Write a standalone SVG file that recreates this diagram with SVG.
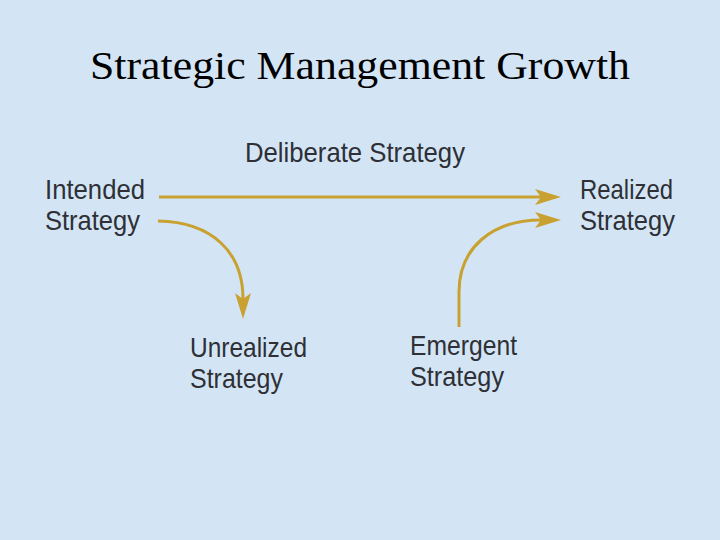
<svg xmlns="http://www.w3.org/2000/svg" width="720" height="540" viewBox="0 0 720 540">
  <style>
    .title { font-family: "Liberation Serif", "Times New Roman", serif; font-size: 40px; fill: #000; }
    .lbl { font-family: "Liberation Sans", Arial, sans-serif; font-size: 28px; fill: #2e3036; }
    .conn { fill: none; stroke: #c9a130; stroke-width: 3; }
  </style>
  <defs>
    <marker id="arr" markerUnits="userSpaceOnUse" markerWidth="28" markerHeight="18" refX="6" refY="8" orient="auto">
      <path d="M0,0 L26,8 L0,16 L6,8 Z" fill="#c9a130"/>
    </marker>
  </defs>
  <rect width="720" height="540" fill="#d3e5f5"/>
  <text class="title" x="360" y="79" text-anchor="middle" textLength="540" lengthAdjust="spacingAndGlyphs">Strategic Management Growth</text>

  <g id="connectors">
    <path class="conn" d="M159,197 L541,197" marker-end="url(#arr)"/>
    <path class="conn" d="M158,221 C212,222 243,252 243,299" marker-end="url(#arr)"/>
    <path class="conn" d="M459,327 L459,292 C459,248 492,220 541,220" marker-end="url(#arr)"/>
  </g>

  <g id="deliberate">
    <text class="lbl" x="245" y="162" textLength="220" lengthAdjust="spacingAndGlyphs">Deliberate Strategy</text>
  </g>
  <g id="intended">
    <text class="lbl" x="45" y="199" textLength="100" lengthAdjust="spacingAndGlyphs">Intended</text>
    <text class="lbl" x="45" y="230" textLength="95" lengthAdjust="spacingAndGlyphs">Strategy</text>
  </g>
  <g id="realized">
    <text class="lbl" x="580" y="199" textLength="93" lengthAdjust="spacingAndGlyphs">Realized</text>
    <text class="lbl" x="580" y="230" textLength="95" lengthAdjust="spacingAndGlyphs">Strategy</text>
  </g>
  <g id="unrealized">
    <text class="lbl" x="190" y="357" textLength="117" lengthAdjust="spacingAndGlyphs">Unrealized</text>
    <text class="lbl" x="190" y="388" textLength="93" lengthAdjust="spacingAndGlyphs">Strategy</text>
  </g>
  <g id="emergent">
    <text class="lbl" x="410" y="355" textLength="107" lengthAdjust="spacingAndGlyphs">Emergent</text>
    <text class="lbl" x="410" y="386" textLength="94" lengthAdjust="spacingAndGlyphs">Strategy</text>
  </g>
</svg>
